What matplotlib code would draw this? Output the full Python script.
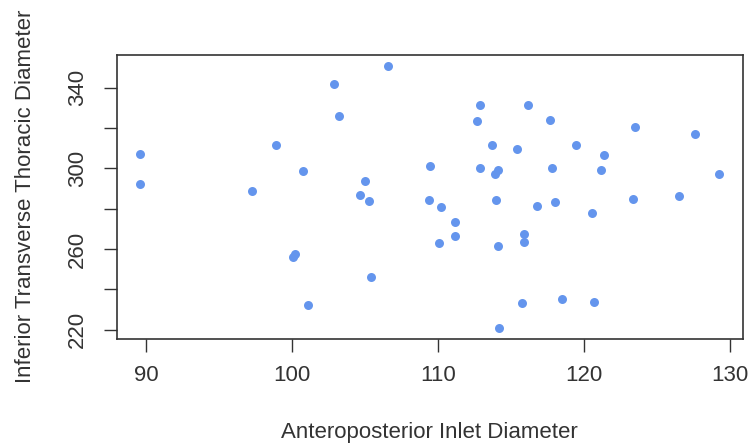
import matplotlib
matplotlib.use('Agg')
import matplotlib.pyplot as plt

plt.rcParams['font.family'] = ['Liberation Sans', 'DejaVu Sans']

# Diamètres
inlet = [89.6, 89.6, 97.3, 98.9, 100.8, 100.2, 100.1, 101.1, 102.9, 103.2,
         106.6, 105.0, 104.7, 105.3, 105.4, 109.5, 109.4, 110.2, 110.1, 111.2,
         111.2, 112.7, 112.9, 112.9, 113.7, 114.1, 113.9, 114.0, 114.1, 114.2,
         115.4, 116.2, 115.9, 115.9, 115.8, 116.8, 117.7, 117.8, 118.0, 118.5,
         119.5, 120.6, 120.7, 121.4, 121.2, 123.5, 123.4, 126.5, 127.6, 129.3]
thoracic = [307.3, 292.3, 288.8, 311.4, 298.5, 257.5, 255.9, 232.4, 341.8, 326.0,
            350.8, 293.7, 287.0, 284.0, 246.3, 301.3, 284.2, 280.7, 262.9, 273.6,
            266.3, 323.3, 331.6, 300.0, 311.6, 299.3, 297.2, 284.2, 261.5, 220.9,
            309.6, 331.6, 267.6, 263.3, 233.3, 281.3, 324.0, 300.0, 283.3, 235.4,
            311.6, 277.9, 233.9, 306.8, 299.2, 320.5, 284.8, 286.3, 317.0, 297.2]

xticks = [90, 100, 110, 120, 130]
yticks = [220, 240, 260, 280, 300, 320, 340]
ylabels = ['220', '', '260', '', '300', '', '340']

fig = plt.figure(figsize=(7.48, 4.48), dpi=100)
ax = fig.add_axes([0.156, 0.244, 0.837, 0.633])

ax.scatter(inlet, thoracic, s=42, color='#6495ED', linewidths=0)

ax.set_xlim(88.0, 130.9)
ax.set_ylim(215.6, 356.2)
ax.set_xticks(xticks)
ax.set_xticklabels([str(v) for v in xticks])
ax.set_yticks(yticks)
ax.set_yticklabels(ylabels)
plt.setp(ax.get_yticklabels(), rotation=90, va='center')

ax.tick_params(axis='both', length=9.4, width=1, color='#333333', labelsize=16,
               labelcolor='#333333')
ax.tick_params(axis='x', pad=9.5)
ax.tick_params(axis='y', pad=11.5)
for sp in ax.spines.values():
    sp.set_linewidth(1.2)
    sp.set_color('#333333')

fig.text(0.574, 0.035, 'Anteroposterior Inlet Diameter', ha='center', va='center',
         fontsize=16, color='#333333')
fig.text(0.034, 0.561, 'Inferior Transverse Thoracic Diameter', ha='center', va='center',
         rotation=90, fontsize=16, color='#333333')

fig.savefig('out.png', dpi=100)
